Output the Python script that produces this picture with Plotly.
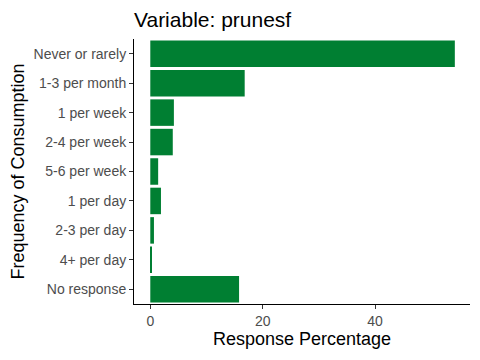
import plotly.graph_objects as go

categories = ["Never or rarely", "1-3 per month", "1 per week", "2-4 per week",
              "5-6 per week", "1 per day", "2-3 per day", "4+ per day", "No response"]
values = [54.2, 16.8, 4.2, 4.0, 1.4, 1.9, 0.65, 0.3, 15.8]

# page body has an 8px margin; compensate so the plot lands where the reference is
W, H = 472, 352
fig = go.Figure(go.Bar(
    x=values, y=categories, orientation="h",
    marker=dict(color="#007F32", line=dict(width=0)),
))
fig.update_layout(
    width=W, height=H,
    margin=dict(l=126, r=10, t=31, b=56),
    paper_bgcolor="white", plot_bgcolor="white",
    bargap=0.1,
    showlegend=False,
    font=dict(family="Liberation Sans, Arial, sans-serif"),
    title=dict(text="Variable: prunesf", x=126/W, xanchor="left", y=1-12/H, yanchor="middle",
               font=dict(size=21, color="black")),
)
fig.update_xaxes(
    range=[-2.9, 56.9], tickvals=[0, 20, 40], ticks="outside", ticklen=4, tickcolor="#333333",
    showline=True, linecolor="black", linewidth=1, showgrid=False, zeroline=False,
    tickfont=dict(size=14, color="#4D4D4D"),
    title=dict(text="Response Percentage", font=dict(size=18, color="black"), standoff=4),
)
fig.update_yaxes(
    categoryorder="array", categoryarray=categories[::-1],
    ticks="outside", ticklen=4, tickcolor="#333333",
    showline=True, linecolor="black", linewidth=1, showgrid=False, zeroline=False,
    tickfont=dict(size=14, color="#4D4D4D"),
    title=dict(text="Frequency of Consumption", font=dict(size=18, color="black"), standoff=4),
)
fig.write_html("out.html")
